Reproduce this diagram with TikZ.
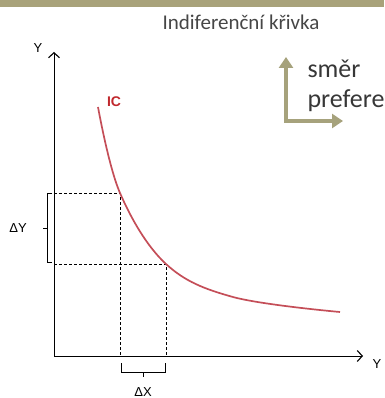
\documentclass[tikz,border=0pt]{standalone}
\usepackage{fontspec}
\setmainfont{Carlito}
\newfontfamily\arialfont{Liberation Sans}
\usetikzlibrary{arrows.meta}

\definecolor{barolive}{RGB}{168,162,122}
\definecolor{prefolive}{RGB}{166,162,124}
\definecolor{titlegray}{RGB}{70,70,70}
\definecolor{textgray}{RGB}{55,55,55}
\definecolor{curvered}{RGB}{196,78,88}
\definecolor{icred}{RGB}{192,40,45}

\begin{document}
\begin{tikzpicture}[
    x=1pt, y=-1pt,
    axis/.style={line width=1pt, -{Straight Barb[length=5pt,width=11pt,line width=1.1pt]}},
    guide/.style={densely dashed, line width=0.6pt},
    bracket/.style={line width=0.7pt},
    axlabel/.style={font=\arialfont\fontsize{13}{15}\selectfont},
    curve/.style={line width=1.7pt, color=curvered},
    pref/.style={line width=4.5pt, color=prefolive,
        {Triangle[length=11pt,width=14pt]}-{Triangle[length=11pt,width=14pt]}},
    preftext/.style={anchor=base west, text=textgray, font=\fontsize{26}{30}\selectfont}
]
\useasboundingbox (0,0) rectangle (384,398);

% Top bar and title
\fill[barolive] (0,0) rectangle (384,7);
\node[font=\fontsize{21}{24}\selectfont, text=titlegray] (title) at (241,22) {Indiferenční křivka};

% Axes
\coordinate (O) at (54,356);
\coordinate (ytip) at (54,52);
\coordinate (xtip) at (363,356);
\draw[axis] (O) -- (ytip);
\draw[axis] (O) -- (xtip);
\node[axlabel] (ylab) at (38,48) {Y};
\node[axlabel] (xlab) at (377,364) {Y};

% Points on the curve
\coordinate (A) at (120,193);
\coordinate (B) at (166,264);
\draw[guide] (O |- A) -- (A) -- (A |- O);
\draw[guide] (O |- B) -- (B) -- (B |- O);

% Indifference curve
\draw[curve] plot[smooth, tension=0.6] coordinates {(98,107) (120,193) (166,264) (233,297) (340,312)};
\node[font=\arialfont\bfseries\fontsize{14}{16}\selectfont, text=icred] (ic) at (114,102) {IC};

% Delta Y bracket
\draw[bracket] (52,193) -- (47,193) -- (47,262) -- (52,262);
\draw[bracket] (47,228) -- (43,228);
\node[axlabel] (dy) at (18,228) {ΔY};

% Delta X bracket
\draw[bracket] (121,363) -- (121,372) -- (165,372) -- (165,363);
\draw[bracket] (143,372) -- (143,377);
\node[axlabel] (dx) at (143,392) {ΔX};

% Direction of preference
\coordinate (corner) at (286,121);
\draw[pref] (286,57) -- (corner) -- (343,121);
\node[preftext] (smer) at (304,78) {směr};
\node[preftext] (prefer) at (304,108) {prefere};

\end{tikzpicture}
\end{document}
